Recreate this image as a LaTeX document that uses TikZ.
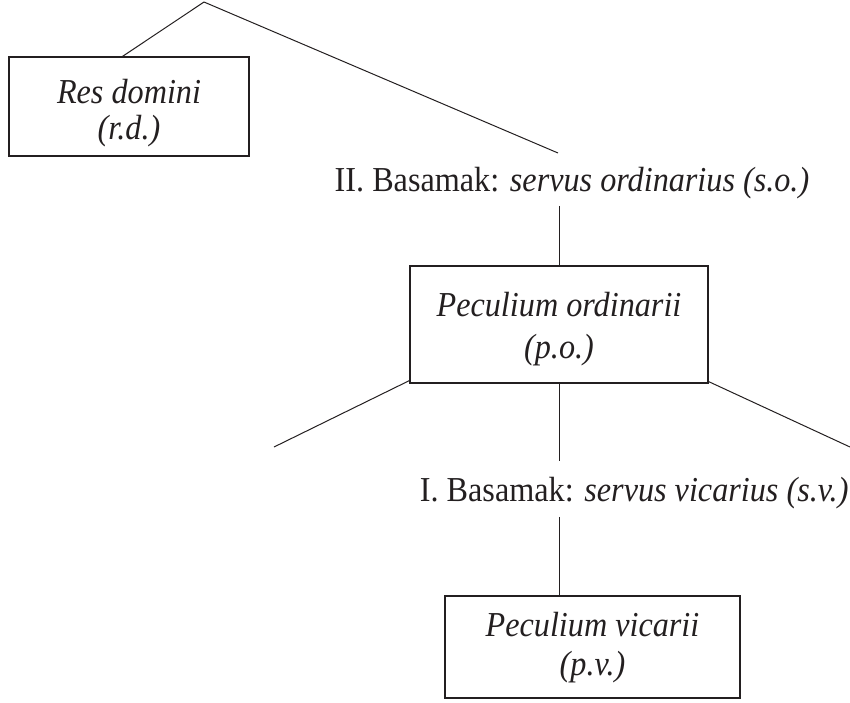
\documentclass[tikz,border=0pt]{standalone}
\usepackage{fontspec}
\setmainfont{Liberation Serif}[FakeStretch=0.92]
\definecolor{ink}{HTML}{231F20}
\begin{document}
\begin{tikzpicture}[x=1pt,y=-1pt,line width=1pt,draw=ink,
  box/.style={draw=ink,line width=1.1pt,inner sep=0pt},
  boxtext/.style={inner sep=0pt,align=center,text=ink,anchor=base,
    font=\fontsize{35}{36}\selectfont\itshape},
  lbl/.style={inner sep=0pt,text=ink,font=\fontsize{35}{36}\selectfont}]
\useasboundingbox (0,0) rectangle (850,702);
\coordinate (apex) at (204,2);
% boxes
\node[box,minimum width=240pt,minimum height=99pt] (rd) at (129,106.5) {};
\node[boxtext] (rdt) at (129,139) {Res domini\\(r.d.)};
\node[box,minimum width=298pt,minimum height=117pt] (po) at (559,324.5) {};
\node[boxtext,font=\fontsize{35}{42}\selectfont\itshape] (pot) at (559,358) {Peculium ordinarii\\(p.o.)};
\node[box,minimum width=295pt,minimum height=102pt] (pv) at (592.5,647) {};
\node[boxtext,font=\fontsize{35}{39}\selectfont\itshape] (pvt) at (592.5,675) {Peculium vicarii\\(p.v.)};
% level labels
\node[lbl,anchor=base] (t2) at (572,191) {II. Basamak: \textit{servus ordinarius (s.o.)}};
\node[lbl,anchor=base east] (t1) at (849,501) {I. Basamak: \textit{servus vicarius (s.v.)}};
% free ends
\coordinate (e1) at (558,153);
\coordinate (e2) at (274,447);
\coordinate (e3) at (850,447);
% connectors
\draw (apex) -- ([xshift=114pt]rd.north west);
\draw (apex) -- (e1);
\draw ([yshift=-7pt]t2.south -| po.north) -- (po.north);
\draw ([yshift=3pt]po.south west) -- (e2);
\draw ([yshift=2pt]po.south east) -- (e3);
\draw (po.south) -- ([yshift=15pt]t1.north -| po.south);
\draw ([yshift=-8pt]t1.south -| po.south) -- (po.south |- pv.north);
\end{tikzpicture}
\end{document}
